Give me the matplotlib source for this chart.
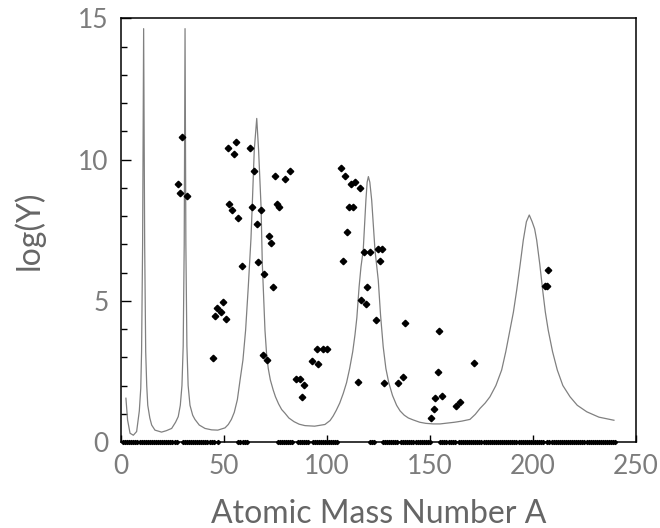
import numpy as np
import matplotlib
matplotlib.use('Agg')
import matplotlib.pyplot as plt
from matplotlib.ticker import MultipleLocator

plt.rcParams['font.family'] = ['Lato', 'DejaVu Sans']

# model curve
curve_A = [2.4, 3.2, 4.4, 6.0, 7.6, 8.9, 9.6, 10.0, 10.5, 11.0, 11.5, 12.0, 12.5, 13.0,
           14.0, 14.9, 16.5, 19.7, 22.0, 24.6, 26.5, 27.8, 28.8, 29.6, 30.2, 30.7, 31.1,
           31.5, 32.0, 32.6, 33.5, 34.8, 35.9, 38.0, 40.8, 44.0, 47.0, 50.5, 52.1, 53.6,
           55.0, 56.5, 57.8, 59.2, 60.5, 61.8, 63.1, 63.7, 64.7, 65.9, 66.8, 68.0, 68.6,
           69.9, 70.7, 71.5, 72.5, 73.9, 75.0, 76.5, 78.0, 79.6, 81.5, 84.0, 86.5, 89.3,
           94.0, 99.0, 101.5, 103.0, 104.5, 106.2, 107.9, 109.5, 111.0, 112.5, 113.6,
           114.5, 115.6, 116.5, 117.6, 118.9, 119.5, 120.1, 120.8, 121.7, 123.3, 124.9,
           126.0, 127.3, 128.6, 130.0, 131.8, 133.8, 135.5, 137.5, 139.5, 141.9, 145.0,
           148.0, 151.5, 154.9, 158.5, 162.0, 165.5, 169.4, 172.0, 174.3, 176.8, 179.1,
           182.0, 184.8, 186.8, 188.8, 190.5, 192.1, 193.8, 195.3, 196.8, 198.2, 199.6,
           200.8, 201.8, 203.3, 204.7, 206.0, 207.4, 209.5, 211.8, 214.5, 218.0, 221.5,
           226.1, 232.0, 239.3]
curve_Y = [1.55, 0.78, 0.31, 0.24, 0.37, 1.1, 1.9, 3.2, 7.0, 14.64, 7.0, 3.2, 2.0, 1.3,
           0.85, 0.6, 0.42, 0.35, 0.4, 0.48, 0.7, 0.9, 1.3, 2.0, 3.4, 7.0, 14.64,
           7.0, 3.4, 2.0, 1.3, 0.95, 0.8, 0.6, 0.48, 0.43, 0.42, 0.5, 0.62, 0.8,
           1.05, 1.5, 2.19, 2.9, 3.96, 5.5, 7.2, 8.33, 10.34, 11.46, 10.34, 8.33, 6.33,
           3.96, 3.1, 2.6, 2.2, 1.84, 1.6, 1.35, 1.15, 1.02, 0.85, 0.72, 0.63, 0.58,
           0.56, 0.62, 0.76, 0.92, 1.12, 1.38, 1.72, 2.1, 2.6, 3.2, 3.8,
           4.4, 5.5, 6.2, 6.8, 8.57, 9.2, 9.4, 9.2, 8.57, 6.8, 5.73,
           4.5, 3.37, 2.6, 2.1, 1.65, 1.3, 1.1, 0.95, 0.85, 0.78, 0.7,
           0.66, 0.64, 0.64, 0.67, 0.7, 0.74, 0.8, 0.98, 1.19, 1.38, 1.6,
           2.0, 2.55, 3.2, 3.96, 4.6, 5.38, 6.3, 7.15, 7.8, 8.04, 7.8,
           7.55, 7.15, 6.3, 5.38, 4.6, 3.96, 3.2, 2.55, 2.0, 1.6, 1.3,
           1.07, 0.88, 0.77]

# measured yields
meas_A = [29.8, 27.8, 28.8, 32.0, 51.8, 55.8, 54.9, 62.6, 64.7, 52.6, 53.7, 56.6, 63.7,
          67.8, 65.9, 74.8, 79.6, 81.9, 75.6, 76.7, 71.7, 72.8, 58.9, 66.7, 69.6, 73.6,
          45.8, 46.8, 48.7, 49.7, 50.8, 44.8, 68.8, 70.7, 84.8, 86.7, 88.7, 87.7, 92.6,
          95.8, 95.0, 97.9, 99.9, 106.6, 108.7, 111.8, 113.7, 115.9, 110.7, 112.6, 109.7,
          107.6, 117.8, 120.9, 124.6, 126.9, 125.7, 119.6, 116.7, 118.8, 123.6, 137.7,
          154.5, 114.9, 127.5, 134.6, 136.7, 153.7, 171.5, 152.6, 155.7, 151.8, 150.6,
          162.6, 164.6, 207.4, 205.8, 206.9]
meas_Y = [10.81, 9.13, 8.83, 8.72, 10.42, 10.61, 10.21, 10.42, 9.61, 8.42, 8.22, 7.92, 8.32,
          8.22, 7.72, 9.42, 9.31, 9.61, 8.42, 8.32, 7.31, 7.05, 6.24, 6.36, 5.96, 5.48,
          4.46, 4.75, 4.61, 4.96, 4.35, 2.97, 3.09, 2.89, 2.23, 2.23, 2.02, 1.58, 2.86,
          2.77, 3.30, 3.30, 3.30, 9.71, 9.42, 9.13, 9.22, 9.01, 8.31, 8.31, 7.43,
          6.40, 6.72, 6.72, 6.84, 6.84, 6.42, 5.50, 5.02, 4.89, 4.32, 4.23,
          3.93, 2.12, 2.08, 2.08, 2.31, 2.48, 2.81, 1.57, 1.63, 1.18, 0.84,
          1.27, 1.43, 6.10, 5.52, 5.52]

# mass numbers whose log(Y) sits at zero
zero_ranges = [(1, 27), (30, 45), (47, 47), (57, 61), (76, 83), (86, 91), (93, 105),
               (121, 123), (127, 134), (136, 150), (155, 162), (164, 205), (207, 240)]
zero_A = np.concatenate([np.arange(a, b + 1) for a, b in zero_ranges])

fig = plt.figure(figsize=(6.6, 5.28), dpi=100)
ax = fig.add_axes([0.1833, 0.1629, 0.7803, 0.8021])

ax.plot(curve_A, curve_Y, color='#808080', linewidth=0.9)
ax.plot(meas_A, meas_Y, 'D', color='black', markersize=3.3, linestyle='none')
ax.plot(zero_A, np.zeros(len(zero_A)), 'D', color='black', markersize=2.1,
        linestyle='none', clip_on=False)

ax.set_xlim(0, 250)
ax.set_ylim(0, 15)
ax.set_xticks([0, 50, 100, 150, 200, 250])
ax.set_yticks([0, 5, 10, 15])
ax.yaxis.set_minor_locator(MultipleLocator(1))
ax.tick_params(axis='both', which='major', direction='in', labelsize=19,
               labelcolor='#7c7c7c', pad=9)
ax.tick_params(axis='y', which='major', length=7, width=1)
ax.tick_params(axis='y', which='minor', direction='in', length=4, width=1)
ax.tick_params(axis='x', which='major', length=5, width=1)

for s in ax.spines.values():
    s.set_linewidth(1.1)

ax.set_xlabel('Atomic Mass Number A', fontsize=23, color='#666666', labelpad=14)
ax.set_ylabel('log(Y)', fontsize=23, color='#666666', labelpad=24)

plt.savefig('out.png', dpi=100)
